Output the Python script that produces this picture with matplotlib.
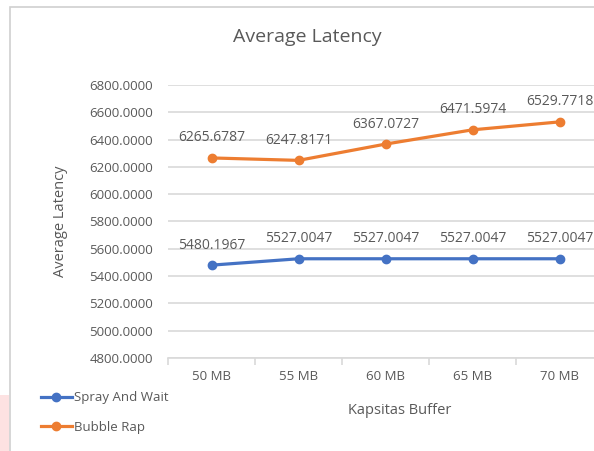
import matplotlib
matplotlib.use("Agg")
import matplotlib.pyplot as plt
from matplotlib.patches import Rectangle
from matplotlib.lines import Line2D

categories = ["50 MB", "55 MB", "60 MB", "65 MB", "70 MB"]
spray_and_wait = [5480.1967, 5527.0047, 5527.0047, 5527.0047, 5527.0047]
bubble_rap = [6265.6787, 6247.8171, 6367.0727, 6471.5974, 6529.7718]
series_names = ["Spray And Wait", "Bubble Rap"]
y_ticks = [4800, 5000, 5200, 5400, 5600, 5800, 6000, 6200, 6400, 6600, 6800]

plt.rcParams['font.family'] = ['Open Sans', 'DejaVu Sans']
TXT = '#595959'
BLUE = '#4472C4'
ORANGE = '#ED7D31'
GRID = '#D9D9D9'

W, H = 594, 451
fig = plt.figure(figsize=(W / 100, H / 100), dpi=100)

# pink background piece at bottom-left and chart border
fig.patches.append(Rectangle((0, 0), 9 / W, (H - 395) / H, transform=fig.transFigure,
                             facecolor='#FDE2E2', edgecolor='none', zorder=-10))
fig.patches.append(Rectangle((10 / W, -0.05), 1.0, 1 - 7 / H + 0.05, transform=fig.transFigure,
                             facecolor='white', edgecolor='#D0D0D0', linewidth=1.2, zorder=-10))

left, right = 168 / W, 603 / W
bottom, top = 1 - 358 / H, 1 - 85 / H
ax = fig.add_axes([left, bottom, right - left, top - bottom])
ax.set_facecolor('none')
ax.set_zorder(5)

x = list(range(len(categories)))
ax.plot(x, spray_and_wait, color=BLUE, lw=2.3, marker='o', ms=6, solid_capstyle='round', zorder=3)
ax.plot(x, bubble_rap, color=ORANGE, lw=2.3, marker='o', ms=6, solid_capstyle='round', zorder=3)

for xi, v in zip(x, spray_and_wait):
    ax.annotate(f"{v:.4f}", (xi, v), xytext=(0, 9), textcoords='offset points',
                ha='center', va='bottom', fontsize=10, color=TXT)
for xi, v in zip(x, bubble_rap):
    ax.annotate(f"{v:.4f}", (xi, v), xytext=(0, 9), textcoords='offset points',
                ha='center', va='bottom', fontsize=10, color=TXT)

ax.set_xlim(-0.5, len(categories) - 0.5)
ax.set_ylim(4800, 6800)
ax.set_yticks(y_ticks)
ax.set_yticklabels([f"{t:.4f}" for t in y_ticks], fontsize=9.5, color=TXT)
ax.set_xticks(x)
ax.set_xticklabels(categories, fontsize=9.5, color=TXT)
ax.set_xticks([i - 0.5 for i in range(len(categories) + 1)], minor=True)
ax.tick_params(axis='x', which='major', length=0, pad=9)
ax.tick_params(axis='x', which='minor', length=5, color=GRID, width=1.2)
ax.tick_params(axis='y', length=0, pad=11)
ax.grid(axis='y', color=GRID, lw=1.2)
ax.set_axisbelow(True)
for s in ['top', 'right', 'left']:
    ax.spines[s].set_visible(False)
ax.spines['bottom'].set_color(GRID)
ax.spines['bottom'].set_linewidth(1.2)

ax.set_ylabel("Average Latency", fontsize=10.5, color=TXT, labelpad=15)
fig.text(400 / W, 1 - 410 / H, "Kapsitas Buffer", ha='center', va='center', fontsize=10.5, color=TXT)
fig.text(307 / W, 1 - 37 / H, "Average Latency", ha='center', va='center', fontsize=14, color=TXT)

handles = [Line2D([], [], color=BLUE, lw=2.3, marker='o', ms=6),
           Line2D([], [], color=ORANGE, lw=2.3, marker='o', ms=6)]
fig.legend(handles, series_names, loc='upper left', bbox_to_anchor=(36 / W, 1 - 386 / H),
           frameon=False, fontsize=9.5, labelcolor=TXT, handlelength=2.3, handletextpad=0.2,
           labelspacing=1.25, borderaxespad=0)

fig.savefig("out.png", dpi=100)
